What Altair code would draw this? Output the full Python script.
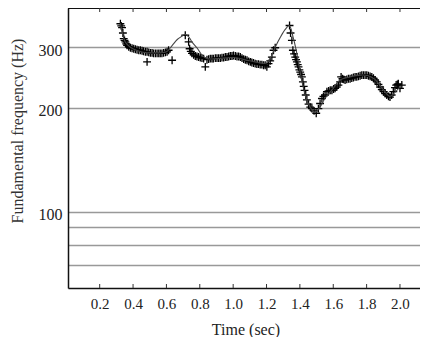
import altair as alt
import pandas as pd

# Measured F0 (crosses)
pt_time = [0.324, 0.329, 0.334, 0.339, 0.344, 0.349, 0.354, 0.359, 0.364, 0.374, 0.384, 0.394, 0.404,
           0.414, 0.424, 0.434, 0.444, 0.454, 0.463, 0.474, 0.484, 0.484, 0.494, 0.504, 0.514, 0.523,
           0.534, 0.544, 0.554, 0.563, 0.573, 0.583, 0.594, 0.604, 0.613, 0.634,
           0.713, 0.733, 0.739, 0.746, 0.753, 0.763, 0.773, 0.783, 0.793, 0.803, 0.813, 0.823, 0.833,
           0.843, 0.853, 0.863, 0.873, 0.881, 0.893, 0.903, 0.913, 0.923, 0.933, 0.943, 0.953, 0.963,
           0.973, 0.983, 0.993, 1.002, 1.013, 1.023, 1.033, 1.043, 1.053, 1.063, 1.073, 1.083, 1.093,
           1.103, 1.112, 1.122, 1.132, 1.142, 1.152, 1.162, 1.172, 1.182, 1.192, 1.202, 1.212, 1.222,
           1.232, 1.242, 1.252,
           1.338, 1.344, 1.352, 1.358, 1.365, 1.372, 1.377, 1.382, 1.387, 1.392, 1.397, 1.402, 1.407,
           1.412, 1.418, 1.423, 1.428, 1.435, 1.442, 1.452, 1.462, 1.472, 1.485, 1.498, 1.511, 1.521,
           1.532, 1.541, 1.551, 1.562, 1.572, 1.582, 1.592, 1.602, 1.611, 1.621, 1.631, 1.641, 1.647,
           1.655, 1.663, 1.671, 1.681, 1.691, 1.701, 1.711, 1.721, 1.731, 1.741, 1.751, 1.761, 1.771,
           1.781, 1.791, 1.801, 1.811, 1.821, 1.831, 1.841, 1.851, 1.861, 1.871, 1.881, 1.891, 1.901,
           1.911, 1.921, 1.931, 1.940, 1.950, 1.960, 1.970, 1.977, 1.984, 1.990, 2.000, 2.011]
pt_freq = [351, 346, 342, 330, 318, 314, 311, 307, 304, 301, 299, 298, 297,
           296, 295, 294, 294, 293, 292, 291, 291, 272, 290, 289, 289, 288,
           288, 288, 288, 288, 288, 289, 290, 291, 294, 275,
           325, 311, 297, 292, 288, 285, 283, 282, 281, 280, 279, 278, 263,
           276, 277, 278, 278, 278, 279, 279, 279, 279, 280, 280, 281, 281,
           282, 283, 283, 284, 283, 282, 282, 281, 279, 277, 276, 275, 273,
           272, 271, 270, 269, 268, 268, 267, 267, 266, 266, 263, 269, 274,
           281, 294, 299,
           347, 330, 314, 294, 287, 281, 276, 272, 267, 263, 258, 254, 250,
           246, 238, 231, 225, 218, 211, 205, 201, 199, 196, 193, 199, 206,
           213, 216, 218, 223, 224, 225, 225, 227, 228, 230, 233, 238, 246,
           243, 242, 241, 242, 243, 243, 244, 245, 246, 246, 247, 248, 249,
           249, 249, 249, 248, 247, 246, 244, 241, 238, 234, 230, 226, 223,
           220, 218, 216, 215, 218, 223, 229, 233, 234, 235, 228, 233]

# Model contour (smooth line)
ln_time = [0.324, 0.354, 0.384, 0.42, 0.46, 0.53, 0.60, 0.635, 0.665, 0.689, 0.713, 0.735,
           0.755, 0.785, 0.815, 0.845, 0.905, 1.0, 1.10, 1.20, 1.225, 1.252, 1.282, 1.312, 1.336,
           1.36, 1.378, 1.396, 1.42, 1.45, 1.49, 1.52, 1.55, 1.60, 1.64, 1.70, 1.76, 1.81, 1.85,
           1.90, 1.94, 1.97, 2.0]
ln_freq = [352, 310, 300, 294, 290, 289, 291, 304, 316, 322, 327, 321,
           310, 298, 284, 278, 278, 280, 274, 270, 280, 300, 320, 338, 347,
           320, 294, 263, 230, 206, 194, 201, 213, 228, 241, 246, 249, 248, 242,
           226, 216, 222, 230]

x_ticks = [0.2, 0.4, 0.6, 0.8, 1.0, 1.2, 1.4, 1.6, 1.8, 2.0]
y_grid = [70, 80, 90, 100, 200, 300]
y_labels = [100, 200, 300]
x_title = "Time (sec)"
y_title = "Fundamental frequency (Hz)"

W, H = 352, 280
FONT = "Liberation Serif"

pts = pd.DataFrame({"t": pt_time, "f": pt_freq})
lns = pd.DataFrame({"t": ln_time, "f": ln_freq})
ticks = pd.DataFrame({"t": x_ticks})
titles = pd.DataFrame({"x": [x_title], "y": [y_title]})

xs = alt.Scale(domain=[0.01, 2.12], nice=False, zero=False)
ys = alt.Scale(type="log", domain=[60, 390], nice=False, zero=False)

label_expr = " || ".join(f"datum.value == {v}" for v in y_labels)

x_axis = alt.Axis(
    values=x_ticks, format=".1f", grid=False, ticks=False, domainColor="#111", domainWidth=1.5,
    labelOverlap=False, labelFont=FONT, labelFontSize=15, labelColor="#222", labelPadding=8,
    title=None)
y_axis = alt.Axis(
    values=y_grid, grid=True, gridColor="#999", gridWidth=1.3, ticks=False,
    domainColor="#111", domainWidth=1.5, labelOverlap=False,
    labelExpr=f"({label_expr}) ? format(datum.value, 'd') : ''",
    labelFont=FONT, labelFontSize=16, labelColor="#222", labelPadding=6, labelOffset=3,
    title=None)

points = alt.Chart(pts).mark_point(
    shape="M-1,0L1,0M0,-1L0,1", filled=False, color="#000", size=62, strokeWidth=1.3, opacity=1
).encode(
    x=alt.X("t:Q", scale=xs, axis=x_axis),
    y=alt.Y("f:Q", scale=ys, axis=y_axis),
)

line = alt.Chart(lns).mark_line(
    interpolate="catmull-rom", color="#444", strokeWidth=1.1
).encode(x=alt.X("t:Q", scale=xs, axis=x_axis), y=alt.Y("f:Q", scale=ys, axis=y_axis))

top_border = alt.Chart(ticks).mark_rule(color="#111", strokeWidth=1.5).encode(
    x=alt.value(0), x2=alt.value(W), y=alt.value(0)
)

bottom_ticks = alt.Chart(ticks).mark_rule(color="#333", strokeWidth=1).encode(
    x=alt.X("t:Q", scale=xs, axis=x_axis), y=alt.value(H), y2=alt.value(H - 4)
)
top_ticks = alt.Chart(ticks).mark_rule(color="#333", strokeWidth=1).encode(
    x=alt.X("t:Q", scale=xs, axis=x_axis), y=alt.value(0), y2=alt.value(4)
)

xt = alt.Chart(titles).mark_text(
    font=FONT, fontSize=16, color="#222", align="center", baseline="middle"
).encode(text="x:N", x=alt.value(178), y=alt.value(H + 42))

yt = alt.Chart(titles).mark_text(
    font=FONT, fontSize=16, color="#333", align="center", baseline="middle", angle=270
).encode(text="y:N", x=alt.value(-50), y=alt.value(123))

chart = alt.layer(points, line, top_border, bottom_ticks, top_ticks, xt, yt).properties(
    width=W, height=H,
    autosize=alt.AutoSizeParams(type="none"),
    padding={"left": 60, "top": 0, "right": 0, "bottom": 49},
).configure_view(stroke=None).configure(background="white")

chart.save("out.html", embed_options={"renderer": "svg", "actions": False})
